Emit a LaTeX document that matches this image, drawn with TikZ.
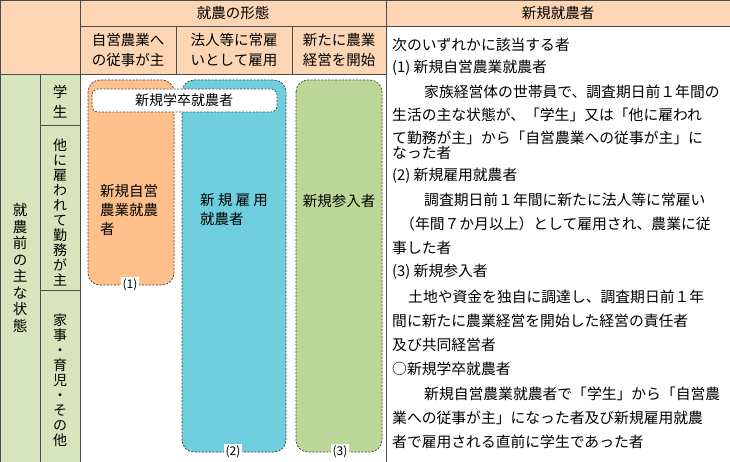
\documentclass[tikz,border=0pt]{standalone}
\usepackage{fontspec}
\setmainfont{Noto Sans CJK JP}
\usetikzlibrary{positioning}

\tikzset{
    cell/.style={draw=black!70, line width=0.8pt},
    hdr/.style={cell, fill=peach},
    side/.style={cell, fill=sage},
    group/.style={draw=black!75, dash pattern=on 2pt off 1.5pt, rounded corners=12pt, line width=0.7pt},
    tag/.style={fill=white, inner sep=1.5pt, font=\fontsize{12}{12}\selectfont},
    txt/.style={anchor=west, inner sep=0pt, font=\fontsize{14.8}{14.8}\selectfont},
    vert/.style={align=center, inner sep=0pt, font=\fontsize{14}{15}\selectfont},
}
\definecolor{peach}{HTML}{FCD5B4}
\definecolor{sage}{HTML}{D8E4BC}
\definecolor{orng}{HTML}{FFC08C}
\definecolor{aqua}{HTML}{6ECEDD}
\definecolor{leaf}{HTML}{BBD898}

\begin{document}
\begin{tikzpicture}[x=1pt, y=-1pt]

\useasboundingbox (0,0) rectangle (730,462);

% Header cells
\draw[hdr] (0,0) rectangle (80,74);
\draw[hdr] (80,0) rectangle (386,26);
\draw[hdr] (80,26) rectangle (176,74);
\draw[hdr] (176,26) rectangle (292,74);
\draw[hdr] (292,26) rectangle (386,74);
\draw[hdr] (386,0) rectangle (730,26);

% Side cells
\draw[side] (0,74) rectangle (40,462);
\draw[side] (40,74) rectangle (80,125);
\draw[side] (40,125) rectangle (80,290);
\draw[side] (40,290) rectangle (80,462);

% Body cells
\draw[cell] (80,74) rectangle (386,462);
\draw[cell] (386,26) rectangle (730,462);

% Header texts
\node (form) at (233,13) {\fontsize{14.5}{14.5}\selectfont 就農の形態};
\node (newf) at (558,13) {\fontsize{14.5}{14.5}\selectfont 新規就農者};
\node[align=center, font=\fontsize{14.5}{20}\selectfont] (h1) at (128,50) {自営農業へ\\の従事が主};
\node[align=center, font=\fontsize{14.5}{20}\selectfont] (h2) at (234,50) {法人等に常雇\\いとして雇用};
\node[align=center, font=\fontsize{14.5}{20}\selectfont] (h3) at (339,50) {新たに農業\\経営を開始};

% Vertical texts
\node[vert, font=\fontsize{14.5}{16.5}\selectfont] (prev) at (20,268) {就\\農\\前\\の\\主\\な\\状\\態};
\node[vert, font=\fontsize{14.5}{20}\selectfont] (stud) at (60,102) {学\\生};
\node[vert] (empl) at (60,212) {他\\に\\雇\\わ\\れ\\て\\勤\\務\\が\\主};
\node[vert] (home) at (60,380) {家\\事\\・\\育\\児\\・\\そ\\の\\他};

% Groups
\draw[group, fill=orng] (88,80) rectangle (174,285);
\draw[group, fill=aqua] (182,80) rectangle (286,452);
\draw[group, fill=leaf] (296,80) rectangle (382,452);
\draw[group, rounded corners=6pt, fill=white] (92,89) rectangle (277,112);
\node (grad) at (184,100.5) {\fontsize{14}{14}\selectfont 新規学卒就農者};

\node[align=left, font=\fontsize{14.5}{19}\selectfont] (own) at (129,210) {新規自営\\農業就農\\者};
\node[align=left, font=\fontsize{14.5}{19}\selectfont] (hire) at (234,210) {新 規 雇 用\\就農者};
\node (entr) at (339,201) {\fontsize{14.5}{14.5}\selectfont 新規参入者};

\node[tag] (t1) at (130,285) {(1)};
\node[tag] (t2) at (233,452) {(2)};
\node[tag] (t3) at (340,452) {(3)};

% Right column text
\foreach \y/\x/\line in {
    45/392/次のいずれかに該当する者,
    68/392/(1) 新規自営農業就農者,
    92/424/家族経営体の世帯員で、調査期日前１年間の,
    115/392/生活の主な状態が、「学生」又は「他に雇われ,
    138/392/て勤務が主」から「自営農業への従事が主」に,
    153/392/なった者,
    176/392/(2) 新規雇用就農者,
    200/424/調査期日前１年間に新たに法人等に常雇い,
    224/400/（年間７か月以上）として雇用され、農業に従,
    248/392/事した者,
    272/392/(3) 新規参入者,
    297/408/土地や資金を独自に調達し、調査期日前１年,
    321/392/間に新たに農業経営を開始した経営の責任者,
    345/392/及び共同経営者,
    369/392/○新規学卒就農者,
    394/424/新規自営農業就農者で「学生」から「自営農,
    418/392/業への従事が主」になった者及び新規雇用就農,
    442/392/者で雇用される直前に学生であった者%
} {
    \node[txt] at (\x,\y) {\line};
}

\end{tikzpicture}
\end{document}
